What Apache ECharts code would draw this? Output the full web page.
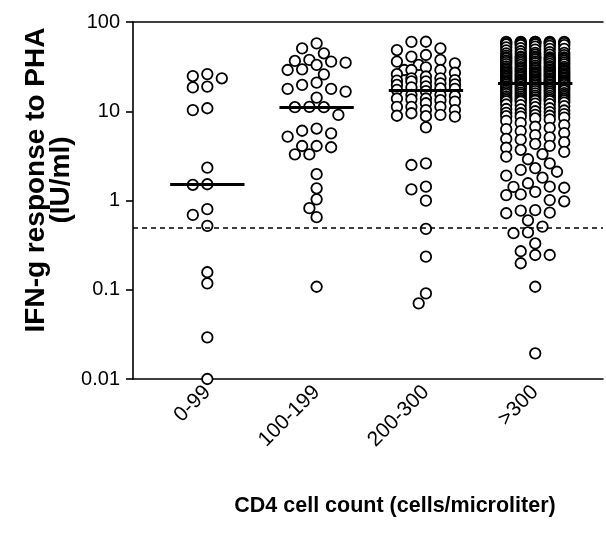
<!DOCTYPE html>
<html>
<head>
<meta charset="utf-8">
<script src="https://cdn.jsdelivr.net/npm/echarts@6/dist/echarts.min.js"></script>
<style>
html, body { margin: 0; background: #fff; }
#chart { width: 606px; height: 536px; }
</style>
</head>
<body>
<div id="chart"></div>
<script>
// data
const categories = ['0-99', '100-199', '200-300', '>300'];
const yTicks = [0.01, 0.1, 1, 10, 100];
const cutoff = 0.5;

const cd4_0_99 = [26.1, 24.8, 23.4, 18.9, 18.5, 10.8, 10.3, 2.33, 1.52, 1.5, 0.8, 0.69, 0.52,
    0.157, 0.118, 0.0293, 0.01];

const cd4_100_199 = [57.7, 50.7, 44.6, 37.6, 36.6, 36, 35, 33, 29.5, 29, 25.9, 20.9, 19.7, 17.8,
    17.8, 16.6, 14.2, 11.2, 11.1, 11.1, 9.1, 6.4, 6.05, 5.66, 5.19, 4.08, 4.08, 3.95, 3.29, 3.29,
    1.97, 1.37, 1.03, 0.82, 0.65, 0.108];

const cd4_200_300 = [60.1, 60, 50.7, 48.5, 42.7, 41, 37.6, 36, 34.4, 33, 31, 29, 29, 29, 27, 26,
    24.5, 23.4, 23.4, 22.3, 22, 21.6, 21.6, 20.5, 20, 19.7, 19, 18.5, 18, 17.8, 17.4, 16.8,
    15.2, 15.2, 14.8, 13.9, 13.9, 13.6, 13.3, 12.8, 12.3, 11.2, 11.2, 11.2, 10.3, 10.3, 9.5, 9.1,
    8.9, 8.8, 8.7, 6.6, 2.61, 2.5, 1.43, 1.33, 0.995, 0.48, 0.235, 0.091, 0.0705];

const cd4_over_300 = [
    60, 60, 60, 60, 60, 60, 59, 59, 59, 58, 58, 58, 57, 57, 56, 56, 55, 55, 54, 53,
    52, 51, 50, 50, 49, 48, 47, 46, 45, 45, 44.5, 44, 43, 43, 42.5, 42, 41, 41, 40, 40, 40, 40,
    39.8, 39.5, 39, 38.8, 38.5, 38, 37.8, 37.5, 37, 36.8, 36.5, 36, 35.8, 35.5, 35, 34.8, 34.5,
    34, 33.8, 33.5, 33, 32.5, 32, 31.8, 31.5, 31.2, 31, 30.8, 30.5, 30.3, 30.1,
    29.8, 29.5, 29.2, 29, 28.9, 28.7, 28.4, 28.1, 27.9, 27.8, 27.5, 27.3, 27, 26.8, 26.6, 26.5,
    26.2, 26, 25.8, 25.6, 25.5, 25.3, 25, 24.9, 24.8, 24.6, 24.4, 24.2, 24, 23.8, 23.6, 23.4,
    23.2, 23, 22.8, 22.7, 22.5, 22.3, 22.2, 22, 21.9, 21.7, 21.6, 21.5, 21.4, 21.3, 21.2, 21.1,
    21, 21, 20.9, 20.9,
    20.7, 20.5, 20.3, 20.1, 20, 19.9, 19.8, 19.6, 19.4, 19.2, 19, 18.8, 18.6, 18.5, 18.4, 18.2,
    18, 17.8, 17.6, 17.4, 17.2, 17.1, 17, 16.8, 16.6, 16.4, 16.2, 16, 15.9, 15.8, 15.6, 15.4,
    15.2, 15, 14.9, 14.7, 14.6, 14.5, 14.3, 14.1, 14, 13.9, 13.8, 13.6, 13.5, 13.4, 13.3, 13.2,
    13.1, 13,
    12.9, 12.8, 12.5, 12.2, 12, 11.9, 11.7, 11.4, 11.1, 10.8, 10.6, 10.5, 10.2, 10, 9.8, 9.6,
    9.5, 9.3, 9.1, 8.9, 8.8, 8.7, 8.5, 8.3, 8.1,
    7.8, 7.4, 7, 6.7, 6.5, 6.3, 6, 5.7, 5.4, 5.1, 4.9, 4.8, 4.5, 4.3, 4.1, 3.9, 3.7, 3.5, 3.3, 3.1,
    2.9, 2.6, 2.3, 2.2, 2.1, 1.9, 1.8, 1.56, 1.43, 1.42, 1.39, 1.25, 1.17, 1.15, 1.01,
    0.98, 0.78, 0.77, 0.73, 0.72, 0.6, 0.51, 0.44, 0.43, 0.33, 0.27, 0.245, 0.245, 0.198, 0.108,
    0.0194];

const groups = [cd4_0_99, cd4_100_199, cd4_200_300, cd4_over_300];

const FONT = '"Liberation Sans", Arial, sans-serif';
const X_MIN = -0.68, X_MAX = 3.62;
const MED_HALF = 0.34;      // half width of the median bar, category units
const STEP = 14.5;          // horizontal slot spacing in px
const MIN_D = 11;           // circles closer than this collide
const SLOTS = [0, -0.5, 0.5, -1, 1, -1.5, 1.5, -2, 2];
const FULL_SLOTS = [0, -1, 1, -2, 2];

const chart = echarts.init(document.getElementById('chart'), null, {renderer: 'canvas'});

const axisLine = {show: true, onZero: false, lineStyle: {color: '#000', width: 1.6}};

chart.setOption({
    animation: false,
    grid: {left: 133, right: 3, top: 22, bottom: 157},
    xAxis: [
        {
            type: 'value', min: X_MIN, max: X_MAX,
            axisLine,
            axisTick: {show: false},
            splitLine: {show: false},
            axisLabel: {
                customValues: categories.map((c, i) => i),
                formatter: (v) => categories[Math.round(v)] ?? '',
                rotate: 45, margin: 10,
                color: '#000', fontSize: 21, fontFamily: FONT
            }
        },
        {
            type: 'value', min: X_MIN, max: X_MAX, position: 'top',
            axisLine,
            axisTick: {show: false},
            axisLabel: {show: false},
            splitLine: {show: false}
        }
    ],
    yAxis: {
        type: 'log', logBase: 10, min: yTicks[0], max: yTicks[yTicks.length - 1],
        axisLine,
        axisTick: {show: true, length: 7, lineStyle: {color: '#000', width: 1.6}},
        splitLine: {show: false},
        minorTick: {show: false},
        axisLabel: {
            margin: 13, color: '#000', fontSize: 20, fontFamily: FONT,
            formatter: (v) => {
                const t = yTicks.find((t) => Math.abs(Math.log10(t) - Math.log10(v)) < 1e-6);
                return t === undefined ? '' : String(t);
            }
        }
    },
    graphic: [
        {
            type: 'text', x: 36, y: 180, rotation: Math.PI / 2,
            style: {text: 'IFN-g response to PHA', font: 'bold 28px ' + FONT, fill: '#000',
                align: 'center', verticalAlign: 'middle'}
        },
        {
            type: 'text', x: 61, y: 180, rotation: Math.PI / 2,
            style: {text: '(IU/ml)', font: 'bold 28px ' + FONT, fill: '#000',
                align: 'center', verticalAlign: 'middle'}
        },
        {
            type: 'text', x: 395, y: 506,
            style: {text: 'CD4 cell count (cells/microliter)', font: 'bold 21.5px ' + FONT,
                fill: '#000', align: 'center', verticalAlign: 'middle'}
        }
    ],
    series: []
});

// simple column-scatter layout: walk down from the largest value, put each
// circle in the first free slot, or the least crowded one when all are taken
function swarm(values, ci) {
    const [cx] = chart.convertToPixel({gridIndex: 0}, [ci, 1]);
    const [cx1] = chart.convertToPixel({gridIndex: 0}, [ci + 1, 1]);
    const unit = cx1 - cx;
    const placed = [];
    return [...values].sort((a, b) => b - a).map((v) => {
        const py = chart.convertToPixel({gridIndex: 0}, [ci, v])[1];
        const near = placed.filter((p) => Math.abs(p.y - py) < MIN_D);
        const dist = (dx) => near.reduce((m, p) => Math.min(m, Math.hypot(p.x - dx, p.y - py)), Infinity);
        let slot = SLOTS.find((s) => dist(s * STEP) >= MIN_D);
        if (slot === undefined)
            slot = FULL_SLOTS.reduce((b, s) => (dist(s * STEP) > dist(b * STEP) ? s : b), 0);
        placed.push({x: slot * STEP, y: py});
        return [ci + (slot * STEP) / unit, v];
    });
}

function median(arr) {
    const s = [...arr].sort((a, b) => a - b);
    const m = Math.floor(s.length / 2);
    return s.length % 2 ? s[m] : (s[m - 1] + s[m]) / 2;
}

const medianLines = groups.map((g, i) => {
    const m = median(g);
    return [{coord: [i - MED_HALF, m]}, {coord: [i + MED_HALF, m]}];
});

chart.setOption({
    series: [
        {
            type: 'line', data: [], silent: true,
            markLine: {
                silent: true, symbol: 'none', label: {show: false},
                lineStyle: {color: '#000', width: 3, type: 'solid'},
                data: medianLines
            }
        },
        ...groups.map((g, i) => ({
            type: 'scatter',
            name: categories[i],
            data: swarm(g, i),
            clip: false,
            symbol: 'circle',
            symbolSize: 10.5,
            itemStyle: {color: '#fff', borderColor: '#000', borderWidth: 1.8, opacity: 1}
        })),
        {
            type: 'line', data: [], silent: true, z: 5,
            markLine: {
                silent: true, symbol: 'none', label: {show: false},
                lineStyle: {color: '#000', width: 1.5, type: [5, 4]},
                data: [{yAxis: cutoff}]
            }
        }
    ]
});
</script>
</body>
</html>
